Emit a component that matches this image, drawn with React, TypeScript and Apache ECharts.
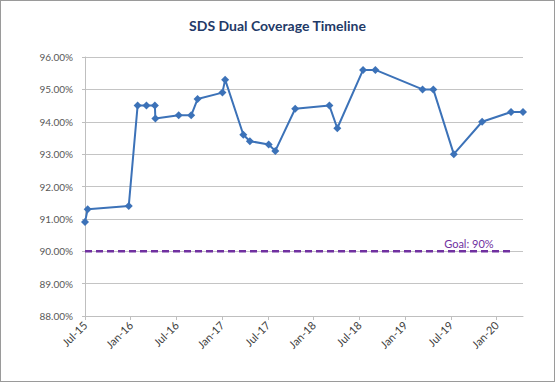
import React, { useEffect, useRef } from "react";
import * as echarts from "echarts";

const dates = [
  "2015-07-01", "2015-07-12", "2015-12-24", "2016-01-29", "2016-03-03", "2016-04-06",
  "2016-04-08", "2016-07-10", "2016-08-30", "2016-09-24", "2017-01-02", "2017-01-13",
  "2017-03-25", "2017-04-20", "2017-07-04", "2017-07-31", "2017-10-19", "2018-03-03",
  "2018-04-04", "2018-07-16", "2018-09-04", "2019-03-10", "2019-04-22", "2019-07-13",
  "2019-11-04", "2020-02-27", "2020-04-15",
];
const coverage = [
  90.9, 91.3, 91.4, 94.5, 94.5, 94.5, 94.1, 94.2, 94.2, 94.7, 94.9, 95.3, 93.6, 93.4,
  93.3, 93.1, 94.4, 94.5, 93.8, 95.6, 95.6, 95.0, 95.0, 93.0, 94.0, 94.3, 94.3,
];
const goalDates = ["2015-07-01", "2020-02-27"];
const goalLabelDate = "2019-09-12";
const goalValue = 90;
const goalLabel = "Goal: 90%";
const tickLabels = ["Jul-15", "Jan-16", "Jul-16", "Jan-17", "Jul-17", "Jan-18", "Jul-18", "Jan-19", "Jul-19", "Jan-20"];
const title = "SDS Dual Coverage Timeline";

// months elapsed since Jul 2015 (axis origin)
function monthOffset(d: string): number {
  const [y, m, day] = d.split("-").map(Number);
  const dim = new Date(y, m, 0).getDate();
  return (y - 2015) * 12 + (m - 7) + (day - 1) / dim;
}

export default function App() {
  const ref = useRef<HTMLDivElement>(null);
  useEffect(() => {
    if (!ref.current) return;
    const chart = echarts.init(ref.current, undefined, { renderer: "svg" });
    const tickValues = tickLabels.map((_, i) => i * 6);
    const font = "Lato, 'Open Sans', sans-serif";
    chart.setOption({
      animation: false,
      backgroundColor: "#ffffff",
      title: {
        text: title,
        left: "center",
        top: 12,
        textStyle: { color: "#1F3A68", fontSize: 14, fontWeight: "bold", fontFamily: font },
      },
      grid: { left: 84, right: 31, top: 56, bottom: 65 },
      xAxis: {
        type: "value",
        min: 0,
        max: monthOffset(dates[dates.length - 1]),
        interval: 6,
        splitLine: { show: false },
        axisLine: { show: true, lineStyle: { color: "#bfbfbf", width: 1 } },
        axisTick: { show: true, length: 4, lineStyle: { color: "#bfbfbf" }, customValues: tickValues },
        axisLabel: {
          customValues: tickValues,
          rotate: 45,
          margin: 7,
          color: "#404040",
          fontSize: 11,
          fontFamily: font,
          formatter: (v: number) => tickLabels[Math.round(v / 6)] ?? "",
        },
      },
      yAxis: {
        type: "value",
        min: 88,
        max: 96,
        interval: 1,
        axisLine: { show: true, lineStyle: { color: "#bfbfbf", width: 1 } },
        axisTick: { show: true, length: 3, lineStyle: { color: "#bfbfbf" } },
        splitLine: { show: true, lineStyle: { color: "#c4c4c4", width: 1 } },
        axisLabel: {
          margin: 12,
          color: "#595959",
          fontSize: 10,
          fontFamily: font,
          formatter: (v: number) => v.toFixed(2) + "%",
        },
      },
      series: [
        {
          type: "line",
          name: "Goal",
          data: goalDates.map((d) => [monthOffset(d), goalValue]),
          symbol: "none",
          lineStyle: { color: "#7030A0", width: 2.5, type: [7, 4] },
          z: 2,
          markPoint: {
            symbol: "circle",
            symbolSize: 2,
            itemStyle: { color: "rgba(0,0,0,0)" },
            data: [
              {
                coord: [monthOffset(goalLabelDate), goalValue],
                label: {
                  show: true,
                  position: "top",
                  distance: 1,
                  formatter: goalLabel,
                  color: "#7030A0",
                  fontSize: 11,
                  fontFamily: font,
                },
              },
            ],
          },
        },
        {
          type: "line",
          name: "Coverage",
          data: dates.map((d, i) => [monthOffset(d), coverage[i]]),
          symbol: "diamond",
          symbolSize: 8,
          lineStyle: { color: "#3C72B8", width: 2 },
          itemStyle: { color: "#3C72B8" },
          z: 3,
        },
      ],
    });
    return () => chart.dispose();
  }, []);
  return (
    <div
      style={{
        position: "fixed",
        left: 0,
        top: 0,
        width: 555,
        height: 382,
        boxSizing: "border-box",
        border: "1px solid #9a9a9a",
        background: "#fff",
      }}
    >
      <div ref={ref} style={{ width: 553, height: 380 }} />
    </div>
  );
}
